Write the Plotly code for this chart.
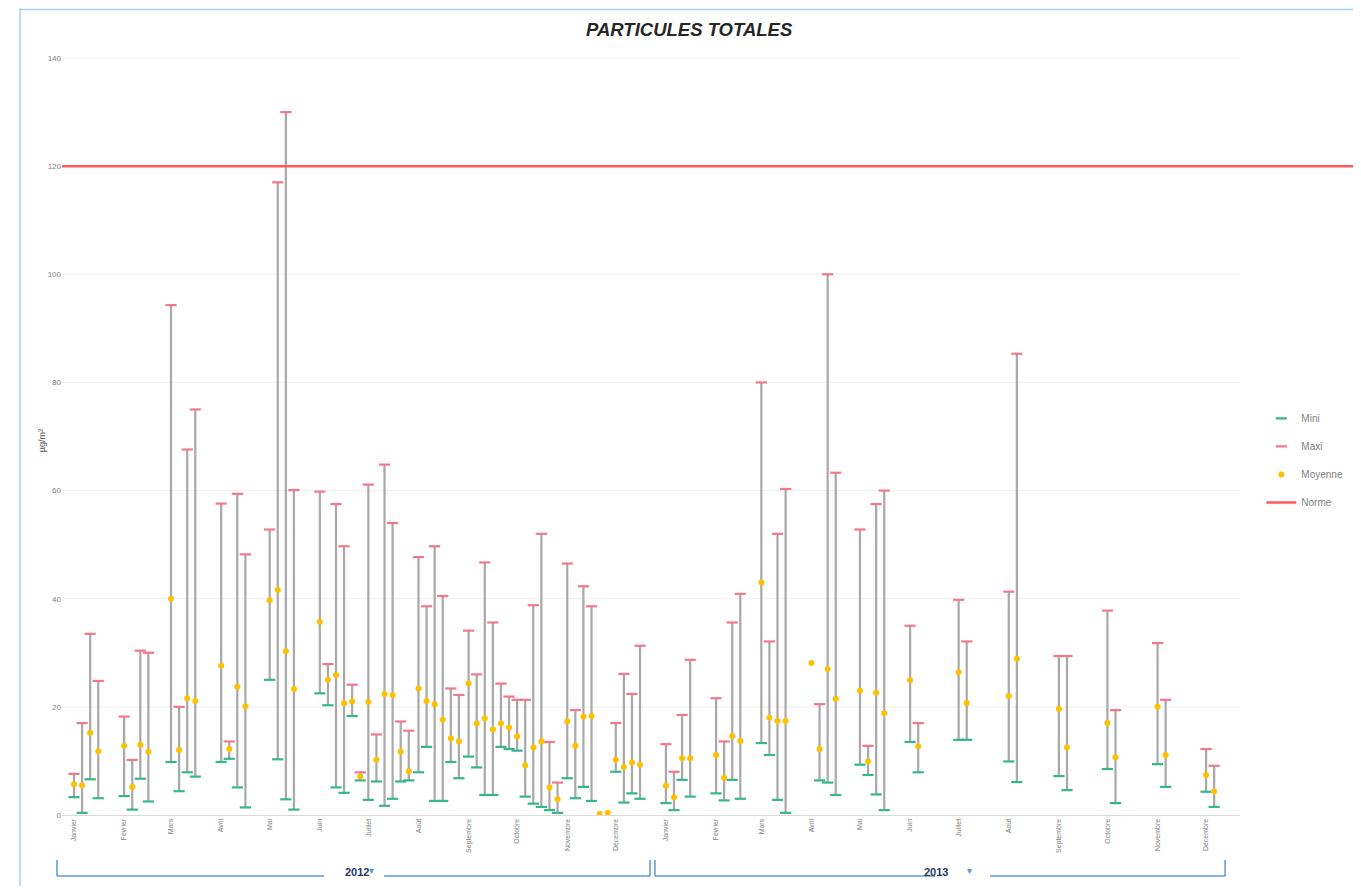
import plotly.graph_objects as go

# ---------------- data ----------------
dates = [
    "2012-01-01", "2012-01-06", "2012-01-11", "2012-01-16",
    "2012-02-01", "2012-02-06", "2012-02-11", "2012-02-16",
    "2012-03-01", "2012-03-06", "2012-03-11", "2012-03-16",
    "2012-04-01", "2012-04-06", "2012-04-11", "2012-04-16",
    "2012-05-01", "2012-05-06", "2012-05-11", "2012-05-16",
    "2012-06-01", "2012-06-06", "2012-06-11", "2012-06-16", "2012-06-21", "2012-06-26",
    "2012-07-01", "2012-07-06", "2012-07-11", "2012-07-16", "2012-07-21", "2012-07-26",
    "2012-08-01", "2012-08-06", "2012-08-11", "2012-08-16", "2012-08-21", "2012-08-26",
    "2012-09-01", "2012-09-06", "2012-09-11", "2012-09-16", "2012-09-21", "2012-09-26",
    "2012-10-01", "2012-10-06", "2012-10-11", "2012-10-16", "2012-10-21", "2012-10-26",
    "2012-11-01", "2012-11-06", "2012-11-11", "2012-11-16", "2012-11-21", "2012-11-26",
    "2012-12-01", "2012-12-06", "2012-12-11", "2012-12-16",
    "2013-01-01", "2013-01-06", "2013-01-11", "2013-01-16",
    "2013-02-01", "2013-02-06", "2013-02-11", "2013-02-16",
    "2013-03-01", "2013-03-06", "2013-03-11", "2013-03-16",
    "2013-04-01", "2013-04-06", "2013-04-11", "2013-04-16",
    "2013-05-01", "2013-05-06", "2013-05-11", "2013-05-16",
    "2013-06-01", "2013-06-06",
    "2013-07-01", "2013-07-06",
    "2013-08-01", "2013-08-06",
    "2013-09-01", "2013-09-06",
    "2013-10-01", "2013-10-06",
    "2013-11-01", "2013-11-06",
    "2013-12-01", "2013-12-06",
]

mini = [
    3.3, 0.4, 6.6, 3.1,
    3.5, 1.0, 6.7, 2.5,
    9.8, 4.4, 7.9, 7.1,
    9.8, 10.4, 5.1, 1.4,
    25.0, 10.3, 2.9, 1.0,
    22.5, 20.3, 5.1, 4.1, 18.3, 6.4,
    2.8, 6.2, 1.7, 3.0, 6.2, 6.4,
    7.9, 12.6, 2.6, 2.6, 9.8, 6.8,
    10.8, 8.8, 3.7, 3.7, 12.6, 12.2,
    11.9, 3.4, 2.1, 1.5, 0.9, 0.4,
    6.8, 3.1, 5.2, 2.6, None, None,
    8.0, 2.3, 4.0, 3.0,
    2.2, 0.9, 6.5, 3.4,
    4.0, 2.7, 6.5, 3.0,
    13.3, 11.1, 2.8, 0.4,
    None, 6.4, 6.0, 3.7,
    9.3, 7.4, 3.8, 0.9,
    13.5, 7.9,
    13.9, 13.9,
    9.9, 6.1,
    7.2, 4.6,
    8.5, 2.2,
    9.4, 5.2,
    4.3, 1.5,
]

maxi = [
    7.6, 17.0, 33.5, 24.8,
    18.2, 10.2, 30.4, 30.0,
    94.3, 20.0, 67.6, 75.0,
    57.6, 13.6, 59.4, 48.2,
    52.8, 117.0, 130.0, 60.1,
    59.8, 27.9, 57.5, 49.7, 24.1, 7.9,
    61.1, 14.9, 64.8, 54.0, 17.3, 15.6,
    47.7, 38.6, 49.7, 40.5, 23.4, 22.2,
    34.1, 26.0, 46.7, 35.6, 24.3, 21.9,
    21.3, 21.3, 38.8, 52.0, 13.5, 6.0,
    46.5, 19.4, 42.3, 38.6, None, None,
    17.0, 26.1, 22.4, 31.3,
    13.1, 8.0, 18.5, 28.7,
    21.6, 13.6, 35.6, 40.9,
    80.0, 32.1, 52.0, 60.3,
    None, 20.5, 100.0, 63.3,
    52.8, 12.8, 57.5, 60.0,
    35.0, 17.0,
    39.8, 32.1,
    41.3, 85.3,
    29.4, 29.4,
    37.8, 19.4,
    31.8, 21.3,
    12.2, 9.1,
]

moyenne = [
    5.7, 5.5, 15.2, 11.8,
    12.8, 5.2, 13.0, 11.7,
    40.0, 12.0, 21.6, 21.1,
    27.6, 12.2, 23.7, 20.1,
    39.7, 41.6, 30.3, 23.3,
    35.7, 25.0, 25.9, 20.7, 21.0, 7.1,
    20.9, 10.2, 22.4, 22.2, 11.7, 8.1,
    23.4, 21.1, 20.5, 17.6, 14.2, 13.6,
    24.3, 16.9, 17.9, 15.8, 16.9, 16.2,
    14.5, 9.2, 12.5, 13.6, 5.1, 2.9,
    17.3, 12.8, 18.2, 18.3, 0.2, 0.4,
    10.2, 8.9, 9.7, 9.3,
    5.4, 3.3, 10.5, 10.5,
    11.1, 6.9, 14.6, 13.7,
    43.0, 18.0, 17.4, 17.4,
    28.1, 12.2, 27.0, 21.5,
    23.0, 9.9, 22.6, 18.8,
    24.9, 12.7,
    26.4, 20.7,
    22.0, 28.9,
    19.6, 12.5,
    17.0, 10.7,
    20.0, 11.1,
    7.4, 4.4,
]

norme = 120

month_ticks = [
    "2012-01-01", "2012-02-01", "2012-03-01", "2012-04-01", "2012-05-01", "2012-06-01",
    "2012-07-01", "2012-08-01", "2012-09-01", "2012-10-01", "2012-11-01", "2012-12-01",
    "2013-01-01", "2013-02-01", "2013-03-01", "2013-04-01", "2013-05-01", "2013-06-01",
    "2013-07-01", "2013-08-01", "2013-09-01", "2013-10-01", "2013-11-01", "2013-12-01",
]
month_names = [
    "Janvier", "Février", "Mars", "Avril", "Mai", "Juin",
    "Juillet", "Août", "Septembre", "Octobre", "Novembre", "Décembre",
    "Janvier", "Février", "Mars", "Avril", "Mai", "Juin",
    "Juillet", "Août", "Septembre", "Octobre", "Novembre", "Décembre",
]
years = ["2012", "2013"]
y_ticks = [0, 20, 40, 60, 80, 100, 120, 140]

# ---------------- figure ----------------
COL_MINI = "#35B68C"
COL_MAXI = "#F2788E"
COL_MOY = "#FFC000"
COL_NORME = "#FF5A5A"
COL_HL = "#A8A8A8"

hl_x, hl_y = [], []
for d, lo, hi in zip(dates, mini, maxi):
    if lo is None or hi is None:
        continue
    hl_x += [d, d, None]
    hl_y += [lo, hi, None]

fig = go.Figure()

fig.add_trace(go.Scatter(
    x=[0, 1], y=[norme, norme], mode="lines", name="Norme", legendgroup="d",
    legendrank=4, line=dict(color=COL_NORME, width=2.5), xaxis="x2", yaxis="y",
))
fig.add_trace(go.Scatter(
    x=hl_x, y=hl_y, mode="lines", line=dict(color=COL_HL, width=2.2),
    showlegend=False, hoverinfo="skip",
))
fig.add_trace(go.Scatter(
    x=dates, y=mini, mode="markers", name="Mini", legendgroup="a", legendrank=1,
    marker=dict(symbol="line-ew", size=8, line=dict(color=COL_MINI, width=2.2)),
))
fig.add_trace(go.Scatter(
    x=dates, y=maxi, mode="markers", name="Maxi", legendgroup="b", legendrank=2,
    marker=dict(symbol="line-ew", size=8, line=dict(color=COL_MAXI, width=2.2)),
))
fig.add_trace(go.Scatter(
    x=dates, y=moyenne, mode="markers", name="Moyenne", legendgroup="c", legendrank=3,
    marker=dict(symbol="circle", size=6, color=COL_MOY),
))

# chart decorations
blue = "#5B9BD5"
shapes = []
def seg(x0, y0, x1, y1, color=blue, w=1.5):
    shapes.append(dict(type="line", xref="paper", yref="paper",
                       x0=x0, y0=y0, x1=x1, y1=y1,
                       line=dict(color=color, width=w)))

# faint horizontal gridlines, kept below all traces
for v in y_ticks[1:]:
    shapes.append(dict(type="line", xref="paper", yref="y", x0=0, x1=0.9125,
                       y0=v, y1=v, layer="below",
                       line=dict(color="#F1F1F1", width=1)))

yb, yt = -0.0806, -0.0594
# 2012 bracket
seg(-0.0039, yb, 0.2030, yb); seg(0.2495, yb, 0.4555, yb)
seg(-0.0039, yb, -0.0039, yt); seg(0.4555, yb, 0.4555, yt)
# 2013 bracket
seg(0.4593, yb, 0.6763, yb); seg(0.7188, yb, 0.9009, yb)
seg(0.4593, yb, 0.4593, yt); seg(0.9009, yb, 0.9009, yt)
# outer chart border
seg(-0.0325, 1.066, -0.0325, -0.094, color="#AFCBEA", w=1.5)
seg(-0.0325, 1.064, 1.0, 1.064, color="#AFCBEA", w=1.5)

annotations = [
    dict(text="<b><i>PARTICULES TOTALES</i></b>", xref="paper", yref="paper",
         x=0.4864, y=1.037, showarrow=False, xanchor="center", yanchor="middle",
         font=dict(size=18.5, color="#262626", family="Liberation Sans, Arial, sans-serif")),
    dict(text="µg/m³", xref="paper", yref="paper", x=-0.021, y=0.495,
         textangle=-90, showarrow=False, font=dict(size=9, color="#595959")),
    dict(text="<b>" + years[0] + "</b>", xref="paper", yref="paper", x=0.2177, y=-0.0859,
         showarrow=False, font=dict(size=11, color="#1F3864")),
    dict(text="<b>" + years[1] + "</b>", xref="paper", yref="paper", x=0.6878, y=-0.0859,
         showarrow=False, font=dict(size=11, color="#1F3864")),
    dict(text="▾", xref="paper", yref="paper", x=0.2360, y=-0.0830,
         showarrow=False, font=dict(size=10, color=blue)),
    dict(text="▾", xref="paper", yref="paper", x=0.7061, y=-0.0830,
         showarrow=False, font=dict(size=10, color=blue)),
]

fig.update_layout(
    width=1345, height=878,
    margin=dict(l=54, r=0, t=50, b=71),
    paper_bgcolor="white", plot_bgcolor="rgba(0,0,0,0)",
    font=dict(family="Liberation Sans, Arial, sans-serif", color="#7F7F7F"),
    xaxis=dict(
        type="date", domain=[0, 0.9125],
        range=["2011-12-24 14:00", "2013-12-22"],
        tickmode="array", tickvals=month_ticks, ticktext=month_names,
        tickangle=-90, tickfont=dict(size=7, color="#7F7F7F"),
        showgrid=False, zeroline=False, showline=True,
        linecolor="#D9D9D9", linewidth=1, ticks="",
    ),
    xaxis2=dict(domain=[0, 1], range=[0, 1], anchor="y", visible=False),
    yaxis=dict(
        range=[0, 140], tickmode="array", tickvals=y_ticks,
        tickfont=dict(size=8, color="#7F7F7F"),
        showgrid=False, zeroline=False, showline=False,
    ),
    legend=dict(
        x=0.929, y=0.543, xanchor="left", yanchor="top",
        font=dict(size=10, color="#7F7F7F"), bgcolor="rgba(0,0,0,0)",
        traceorder="grouped", tracegroupgap=9,
    ),
    shapes=shapes,
    annotations=annotations,
    showlegend=True,
)

fig.write_html("out.html")
